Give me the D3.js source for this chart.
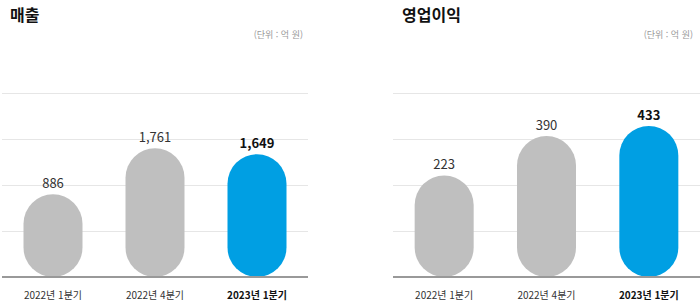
<!DOCTYPE html>
<html lang="ko">
<head>
<meta charset="UTF-8">
<title>매출 / 영업이익</title>
<script src="https://d3js.org/d3.v7.min.js"></script>
<style>
  body { margin: 0; background: #fff; }
  svg { display: block; font-family: "Noto Sans CJK KR", "Noto Sans", sans-serif; }
</style>
</head>
<body>
<svg id="chart" width="700" height="308"></svg>
<script>
// data
var categories = ["2022년 1분기", "2022년 4분기", "2023년 1분기"];
var salesValues = [886, 1761, 1649];
var profitValues = [223, 390, 433];
var panelTitles = ["매출", "영업이익"];
var unitLabel = "(단위 : 억 원)";

var svg = d3.select("#chart");
var baseY = 277, topY = 93;
var gridYs = [93, 139, 185, 231];
var barW = 59;

function drawPanel(opt) {
  var g = svg.append("g");
  var x = d3.scalePoint().domain(categories).range([opt.x0, opt.x1]).padding(0.5);
  var y = d3.scaleLinear().domain([0, opt.max]).range([baseY - opt.minH, topY]);

  g.append("text")
    .attr("x", opt.titleX).attr("y", 21)
    .attr("font-size", 16).attr("font-weight", "bold").attr("fill", "#111")
    .text(opt.title);

  g.append("text")
    .attr("x", opt.unitX).attr("y", 38)
    .attr("text-anchor", "end").attr("font-size", 9).attr("fill", "#999")
    .text(unitLabel);

  g.selectAll(".grid").data(gridYs).enter().append("line")
    .attr("x1", opt.x0).attr("x2", opt.x1)
    .attr("y1", function(d) { return d + 0.5; }).attr("y2", function(d) { return d + 0.5; })
    .attr("stroke", "#e6e6e6").attr("stroke-width", 1);

  var last = categories.length - 1;
  g.selectAll(".bar").data(opt.values).enter().append("rect")
    .attr("x", function(d, i) { return x(categories[i]) - barW / 2; })
    .attr("y", function(d) { return y(d); })
    .attr("width", barW)
    .attr("height", function(d) { return baseY - y(d); })
    .attr("rx", barW / 2).attr("ry", barW / 2)
    .attr("fill", function(d, i) { return i === last ? "#009fe3" : "#bfbfbf"; });

  g.selectAll(".val").data(opt.values).enter().append("text")
    .attr("x", function(d, i) { return x(categories[i]); })
    .attr("y", function(d) { return y(d) - 6; })
    .attr("text-anchor", "middle")
    .attr("font-size", 13)
    .attr("font-weight", function(d, i) { return i === last ? "bold" : "normal"; })
    .attr("fill", function(d, i) { return i === last ? "#111" : "#333"; })
    .text(function(d) { return d3.format(",")(d); });

  g.append("line")
    .attr("x1", opt.x0).attr("x2", opt.x1)
    .attr("y1", baseY).attr("y2", baseY)
    .attr("stroke", "#999").attr("stroke-width", 2);

  g.selectAll(".cat").data(categories).enter().append("text")
    .attr("x", function(d) { return x(d); })
    .attr("y", 299)
    .attr("text-anchor", "middle")
    .attr("font-size", 10)
    .attr("font-weight", function(d, i) { return i === last ? "bold" : "normal"; })
    .attr("fill", function(d, i) { return i === last ? "#111" : "#333"; })
    .text(function(d) { return d; });
}

drawPanel({ title: panelTitles[0], values: salesValues, x0: 2, x1: 308, titleX: 10, unitX: 303, max: 2812, minH: 36 });
drawPanel({ title: panelTitles[1], values: profitValues, x0: 393, x1: 700, titleX: 402, unitX: 693, max: 573, minH: 49 });
</script>
</body>
</html>
